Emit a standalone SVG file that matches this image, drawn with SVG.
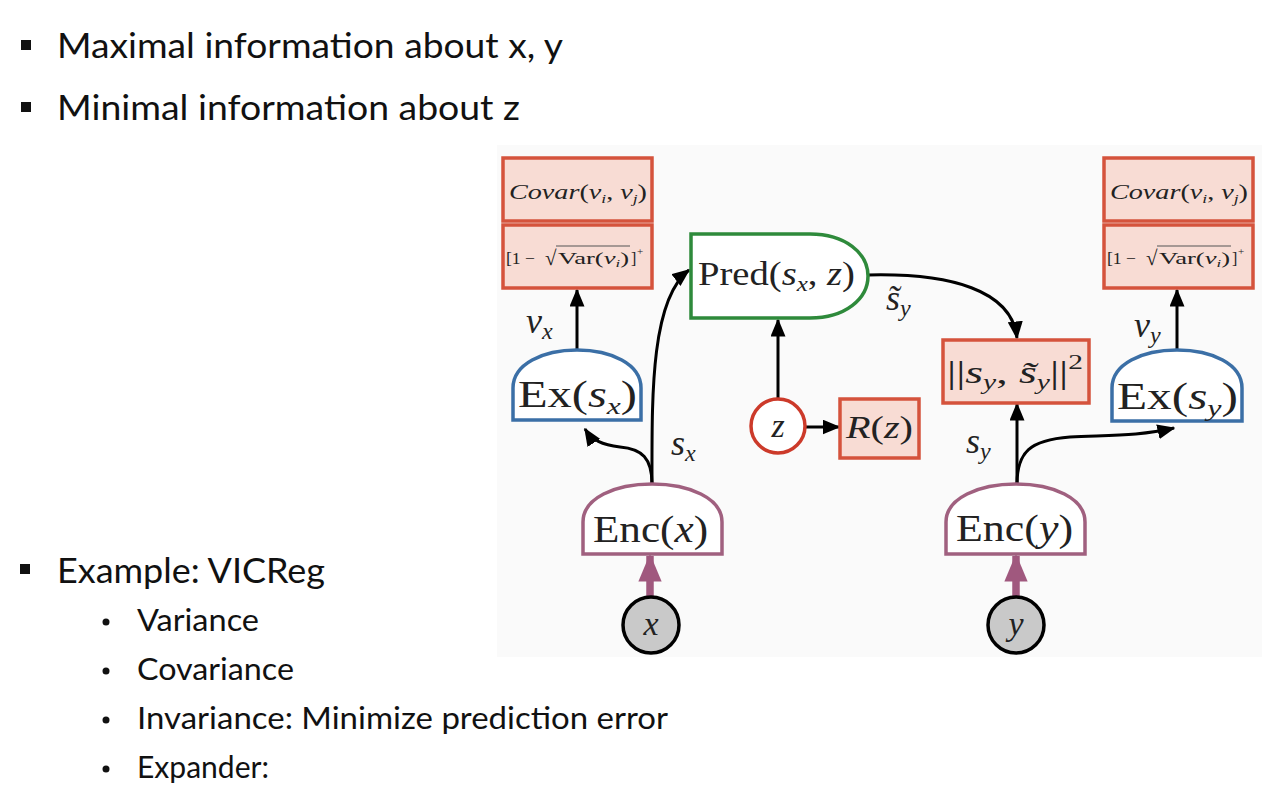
<svg xmlns="http://www.w3.org/2000/svg" width="1278" height="800" viewBox="0 0 1278 800">
<style>
.bul{font-family:Lato,"Open Sans","Liberation Sans",sans-serif;fill:#111}
.m{font-family:"Liberation Serif","DejaVu Serif",serif;fill:#222}
.it{font-style:italic}
.box{fill:#f8dcd4;stroke:#d5533c;stroke-width:3.5}
.ex{fill:#fff;stroke:#3b6fa6;stroke-width:3.5}
.enc{fill:#fff;stroke:#a0607f;stroke-width:3.5}
.pred{fill:#fff;stroke:#2e8a3b;stroke-width:3.5}
.c{fill:none;stroke:#000;stroke-width:3}
.p{fill:none;stroke:#a0587e;stroke-width:7.5}
</style>
<defs>
<marker id="ah" viewBox="0 0 12 10" refX="11" refY="5" markerWidth="6" markerHeight="5" markerUnits="strokeWidth" orient="auto"><path d="M0,0 L12,5 L0,10 Z" fill="#000"/></marker>
<marker id="ahp" viewBox="0 0 12 10" refX="11" refY="5" markerWidth="3.8" markerHeight="3.1" markerUnits="strokeWidth" orient="auto"><path d="M0,0 L12,5 L0,10 Z" fill="#a0587e"/></marker>
</defs>
<rect width="1278" height="800" fill="#fff"/>
<rect x="497" y="145" width="765" height="512" fill="#fafafa"/>

<g id="text-bullets">
<rect x="21" y="40" width="10" height="10" fill="#111"/>
<text class="bul" x="57" y="58" font-size="35" textLength="506" lengthAdjust="spacingAndGlyphs">Maximal information about x, y</text>
<rect x="21" y="102" width="10" height="10" fill="#111"/>
<text class="bul" x="57" y="120" font-size="35" textLength="463" lengthAdjust="spacingAndGlyphs">Minimal information about z</text>
<rect x="20" y="564" width="10" height="10" fill="#111"/>
<text class="bul" x="57" y="583" font-size="35" textLength="268" lengthAdjust="spacingAndGlyphs">Example: VICReg</text>
<circle cx="106" cy="622" r="3.5" fill="#111"/>
<text class="bul" x="137" y="631" font-size="30" textLength="122" lengthAdjust="spacingAndGlyphs">Variance</text>
<circle cx="106" cy="671" r="3.5" fill="#111"/>
<text class="bul" x="137" y="680" font-size="30" textLength="157" lengthAdjust="spacingAndGlyphs">Covariance</text>
<circle cx="106" cy="720" r="3.5" fill="#111"/>
<text class="bul" x="137" y="729" font-size="30" textLength="531" lengthAdjust="spacingAndGlyphs">Invariance: Minimize prediction error</text>
<circle cx="106" cy="769" r="3.5" fill="#111"/>
<text class="bul" x="137" y="778" font-size="30" textLength="132" lengthAdjust="spacingAndGlyphs">Expander:</text>
</g>

<g id="connectors">
<line class="c" x1="577" y1="350" x2="577" y2="290" marker-end="url(#ah)"/>
<path class="c" d="M652,484 C652,400 650,300 689,270" marker-end="url(#ah)"/>
<path class="c" d="M652,484 C652,458 642,449 620,447 C602,445 592,440 585,429" marker-end="url(#ah)"/>
<line class="c" x1="778" y1="398" x2="778" y2="320" marker-end="url(#ah)"/>
<line class="c" x1="805" y1="427" x2="839" y2="427" marker-end="url(#ah)"/>
<path class="c" d="M868,275 C950,273 1012,290 1017,338" marker-end="url(#ah)"/>
<line class="c" x1="1017" y1="484" x2="1017" y2="404" marker-end="url(#ah)"/>
<path class="c" d="M1017,484 C1017,452 1030,440 1070,437 C1110,435 1140,436 1174,428" marker-end="url(#ah)"/>
<line class="c" x1="1177" y1="350" x2="1177" y2="290" marker-end="url(#ah)"/>
<line class="p" x1="650" y1="597" x2="650" y2="556" marker-end="url(#ahp)"/>
<line class="p" x1="1016" y1="597" x2="1016" y2="556" marker-end="url(#ahp)"/>
</g>

<g id="labels">
<text class="m it" x="526" y="333" font-size="36">v<tspan font-size="24" dy="6">x</tspan></text>
<text class="m it" x="671" y="455" font-size="36">s<tspan font-size="24" dy="6">x</tspan></text>
<text class="m it" x="886" y="310" font-size="36">s̃<tspan font-size="24" dy="6">y</tspan></text>
<text class="m it" x="966" y="453" font-size="36">s<tspan font-size="24" dy="6">y</tspan></text>
<text class="m it" x="1134" y="337" font-size="36">v<tspan font-size="24" dy="6">y</tspan></text>
</g>

<g id="covar-x">
<rect class="box" x="503" y="158" width="149" height="63"/>
<text class="m" x="509" y="199" font-size="21" textLength="138" lengthAdjust="spacingAndGlyphs"><tspan class="it">Covar</tspan>(<tspan class="it">v</tspan><tspan class="it" font-size="13" dy="4">i</tspan><tspan dy="-4">, </tspan><tspan class="it">v</tspan><tspan class="it" font-size="13" dy="4">j</tspan><tspan dy="-4">)</tspan></text>
</g>
<g id="var-x">
<rect class="box" x="503" y="225" width="149" height="63"/>
<text class="m" x="506" y="264" font-size="16" fill="#555" textLength="29" lengthAdjust="spacingAndGlyphs">[1 −</text>
<text class="m" x="545" y="265" font-size="21" fill="#555">√</text>
<line x1="556" y1="246" x2="630" y2="246" stroke="#555" stroke-width="1.2"/>
<text class="m" x="558" y="264" font-size="16" fill="#555" textLength="71" lengthAdjust="spacingAndGlyphs">Var(<tspan class="it">v</tspan><tspan class="it" font-size="10" dy="3">i</tspan><tspan dy="-3">)</tspan></text>
<text class="m" x="631" y="264" font-size="16" fill="#555">]</text>
<text class="m" x="637" y="255" font-size="11" fill="#555">+</text>
</g>
<g id="ex-x">
<path class="ex" d="M513,420 V388 C513,364 543,350 577,350 C611,350 641,364 641,388 V420 Z"/>
<text class="m" x="518" y="407" font-size="37" textLength="119" lengthAdjust="spacingAndGlyphs">Ex(<tspan class="it">s</tspan><tspan class="it" font-size="24" dy="7">x</tspan><tspan dy="-7">)</tspan></text>
</g>
<g id="enc-x">
<path class="enc" d="M583,554 V522 C583,498 615,484 652,484 C689,484 722,498 722,522 V554 Z"/>
<text class="m" x="593" y="542" font-size="37" textLength="115" lengthAdjust="spacingAndGlyphs">Enc(<tspan class="it">x</tspan>)</text>
</g>
<g id="x">
<circle cx="651" cy="625" r="28" fill="#c9c9c9" stroke="#000" stroke-width="3.5"/>
<text class="m it" x="651" y="635" font-size="34" text-anchor="middle">x</text>
</g>
<g id="pred">
<path class="pred" d="M691,234 H810 C845,234 868,253 868,276 C868,299 845,318 810,318 H691 Z"/>
<text class="m" x="698" y="285" font-size="34" textLength="157" lengthAdjust="spacingAndGlyphs">Pred(<tspan class="it">s</tspan><tspan class="it" font-size="22" dy="6">x</tspan><tspan dy="-6">, </tspan><tspan class="it">z</tspan>)</text>
</g>
<g id="z">
<circle cx="778" cy="426" r="27" fill="#fff" stroke="#cc3a2a" stroke-width="3.5"/>
<text class="m it" x="778" y="437" font-size="34" text-anchor="middle">z</text>
</g>
<g id="rz">
<rect class="box" x="840" y="399" width="79" height="59"/>
<text class="m" x="846" y="438" font-size="32" textLength="67" lengthAdjust="spacingAndGlyphs"><tspan class="it">R</tspan>(<tspan class="it">z</tspan>)</text>
</g>
<g id="loss">
<rect class="box" x="943" y="340" width="146" height="63"/>
<text class="m" x="947" y="383" font-size="31" textLength="136" lengthAdjust="spacingAndGlyphs">||<tspan class="it">s</tspan><tspan class="it" font-size="20" dy="6">y</tspan><tspan dy="-6">, </tspan><tspan class="it">s̃</tspan><tspan class="it" font-size="20" dy="6">y</tspan><tspan dy="-6">||</tspan><tspan font-size="20" dy="-14">2</tspan></text>
</g>
<g id="enc-y">
<path class="enc" d="M946,554 V522 C946,498 979,484 1016,484 C1053,484 1085,498 1085,522 V554 Z"/>
<text class="m" x="956" y="541" font-size="37" textLength="117" lengthAdjust="spacingAndGlyphs">Enc(<tspan class="it">y</tspan>)</text>
</g>
<g id="y">
<circle cx="1016" cy="625" r="28" fill="#c9c9c9" stroke="#000" stroke-width="3.5"/>
<text class="m it" x="1016" y="635" font-size="34" text-anchor="middle">y</text>
</g>
<g id="ex-y">
<path class="ex" d="M1112,421 V388 C1112,364 1142,350 1177,350 C1212,350 1242,364 1242,388 V421 Z"/>
<text class="m" x="1117" y="409" font-size="37" textLength="121" lengthAdjust="spacingAndGlyphs">Ex(<tspan class="it">s</tspan><tspan class="it" font-size="24" dy="7">y</tspan><tspan dy="-7">)</tspan></text>
</g>
<g id="covar-y">
<rect class="box" x="1104" y="158" width="149" height="63"/>
<text class="m" x="1110" y="199" font-size="21" textLength="138" lengthAdjust="spacingAndGlyphs"><tspan class="it">Covar</tspan>(<tspan class="it">v</tspan><tspan class="it" font-size="13" dy="4">i</tspan><tspan dy="-4">, </tspan><tspan class="it">v</tspan><tspan class="it" font-size="13" dy="4">j</tspan><tspan dy="-4">)</tspan></text>
</g>
<g id="var-y">
<rect class="box" x="1104" y="225" width="149" height="63"/>
<text class="m" x="1107" y="264" font-size="16" fill="#555" textLength="29" lengthAdjust="spacingAndGlyphs">[1 −</text>
<text class="m" x="1146" y="265" font-size="21" fill="#555">√</text>
<line x1="1157" y1="246" x2="1231" y2="246" stroke="#555" stroke-width="1.2"/>
<text class="m" x="1159" y="264" font-size="16" fill="#555" textLength="71" lengthAdjust="spacingAndGlyphs">Var(<tspan class="it">v</tspan><tspan class="it" font-size="10" dy="3">i</tspan><tspan dy="-3">)</tspan></text>
<text class="m" x="1232" y="264" font-size="16" fill="#555">]</text>
<text class="m" x="1238" y="255" font-size="11" fill="#555">+</text>
</g>
</svg>
